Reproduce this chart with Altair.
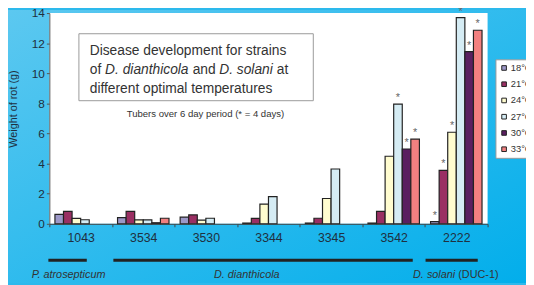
import altair as alt
import pandas as pd

strains = ["1043", "3534", "3530", "3344", "3345", "3542", "2222"]
temps = ["18°C", "21°C", "24°C", "27°C", "30°C", "33°C"]
colors = ["#9C98C8", "#9A2F63", "#FFFCCF", "#D5ECF4", "#5A1F60", "#F28080"]

t18 = [0.63, 0.41, 0.44, 0.05, 0.05, 0.05, 0.15]
t21 = [0.82, 0.83, 0.59, 0.36, 0.37, 0.83, 3.55]
t24 = [0.36, 0.26, 0.24, 1.31, 1.68, 4.49, 6.08]
t27 = [0.27, 0.26, 0.37, 1.81, 3.64, 7.95, 13.70]
t30 = [None, 0.07, None, None, None, 4.97, 11.44]
t33 = [None, 0.37, None, None, None, 5.62, 12.86]

# asterisk (* = 4 days) flags
s18 = [0, 0, 0, 0, 0, 0, 1]
s21 = [0, 0, 0, 0, 0, 0, 1]
s24 = [0, 0, 0, 0, 0, 0, 1]
s27 = [0, 0, 0, 0, 0, 1, 1]
s30 = [0, 0, 0, 0, 0, 1, 1]
s33 = [0, 0, 0, 0, 0, 1, 1]

series = [t18, t21, t24, t27, t30, t33]
stars = [s18, s21, s24, s27, s30, s33]

rows = []
for t, vals, st in zip(temps, series, stars):
    for s, v, f in zip(strains, vals, st):
        if v is not None:
            rows.append({"strain": s, "temp": t, "value": v, "star": f})
df = pd.DataFrame(rows)

FONT = "Liberation Sans"
W, H = 445, 214

x = alt.X("strain:N", sort=strains, title=None,
          scale=alt.Scale(paddingInner=0, paddingOuter=0),
          axis=alt.Axis(labelAngle=0, labelFontSize=12.5, labelColor="#1f3040",
                        labelPadding=5, tickBand="extent", tickSize=3,
                        tickColor="#444", domainColor="#444", labelFont=FONT,
                        zindex=1))
xo = alt.XOffset("temp:N", sort=temps,
                 scale=alt.Scale(paddingInner=0, paddingOuter=0.65))
y = alt.Y("value:Q", title="Weight of rot (g)",
          scale=alt.Scale(domain=[0, 14], nice=False),
          axis=alt.Axis(values=[0, 2, 4, 6, 8, 10, 12, 14], grid=False,
                        labelFontSize=12, labelColor="#1f3040", labelPadding=2,
                        tickSize=3, tickColor="#555", domainColor="#555",
                        titleFontSize=11, titleFontWeight="normal",
                        titleColor="#1f3040", titleX=-31, titleY=97,
                        titleFont=FONT, labelFont=FONT, zindex=1))

one = pd.DataFrame({"k": [0]})

grad = alt.Chart(one).mark_rect(
    fill=alt.LinearGradient(gradient="linear",
                            stops=[alt.GradientStop(color="#5CC8F0", offset=0),
                                   alt.GradientStop(color="#02AEEB", offset=1)],
                            x1=0, y1=0, x2=1, y2=1)
).encode(x=alt.value(-42), x2=alt.value(484), y=alt.value(-3), y2=alt.value(274))

plotbg = alt.Chart(one).mark_rect(fill="white").encode(
    x=alt.value(0), x2=alt.value(W), y=alt.value(0), y2=alt.value(H))

bars = alt.Chart(df).mark_bar(stroke="#222", strokeWidth=1.2).encode(
    x=x, xOffset=xo, y=y,
    color=alt.Color("temp:N", sort=temps,
                    scale=alt.Scale(domain=temps, range=colors),
                    legend=alt.Legend(title=None, orient="none", legendX=453,
                                      legendY=47, fillColor="white",
                                      strokeColor="#999", padding=4,
                                      symbolType="square", symbolSize=22,
                                      symbolStrokeColor="#222",
                                      symbolStrokeWidth=1, labelFontSize=9.5,
                                      labelColor="#333", labelOffset=2,
                                      rowPadding=5.5, labelFont=FONT)))

starmarks = alt.Chart(df).transform_filter("datum.star == 1").mark_text(
    text="*", fontSize=11, color="#666", dy=-6, font=FONT
).encode(x=x, xOffset=xo, y=y)

box = alt.Chart(one).mark_rect(fill="white", stroke="#999", strokeWidth=1).encode(
    x=alt.value(30), x2=alt.value(268), y=alt.value(21), y2=alt.value(89))


def txt(s, px, py, size=14, style="normal", align="left"):
    return alt.Chart(one).mark_text(
        text=s, font=FONT, fontSize=size, fontStyle=style, align=align,
        baseline="middle", color="#333"
    ).encode(x=alt.value(px), y=alt.value(py))


texts = [
    txt("Disease development for strains", 41, 39),
    txt("of", 41, 58),
    txt("D. dianthicola", 56.6, 58, style="italic"),
    txt("and", 145.5, 58),
    txt("D. solani", 172.5, 58, style="italic"),
    txt("at", 231, 58),
    txt("different optimal temperatures", 41, 77),
    txt("Tubers over 6 day period (* = 4 days)", 158.5, 103, size=9.7, align="center"),
    txt("P. atrosepticum", 19.5, 266, size=11, style="italic", align="center"),
    txt("D. dianthicola", 200.5, 266, size=11, style="italic", align="center"),
    txt("D. solani", 369.3, 266, size=11, style="italic"),
    txt("(DUC-1)", 415.2, 266, size=11),
]


def line(a, b):
    return alt.Chart(one).mark_rule(color="#222", strokeWidth=3).encode(
        x=alt.value(a), x2=alt.value(b), y=alt.value(251))


lines = [line(-1, 38), line(65, 369), line(382, 435)]

chart = alt.layer(grad, plotbg, bars, starmarks, box, *texts, *lines).properties(
    width=W, height=H,
    autosize=alt.AutoSizeParams(type="none"),
    padding={"left": 42, "top": 3, "right": 39, "bottom": 60},
).configure_view(stroke=None).configure(background="#2DB9EC")

chart.save("out.html", embed_options={"renderer": "svg", "actions": False})
